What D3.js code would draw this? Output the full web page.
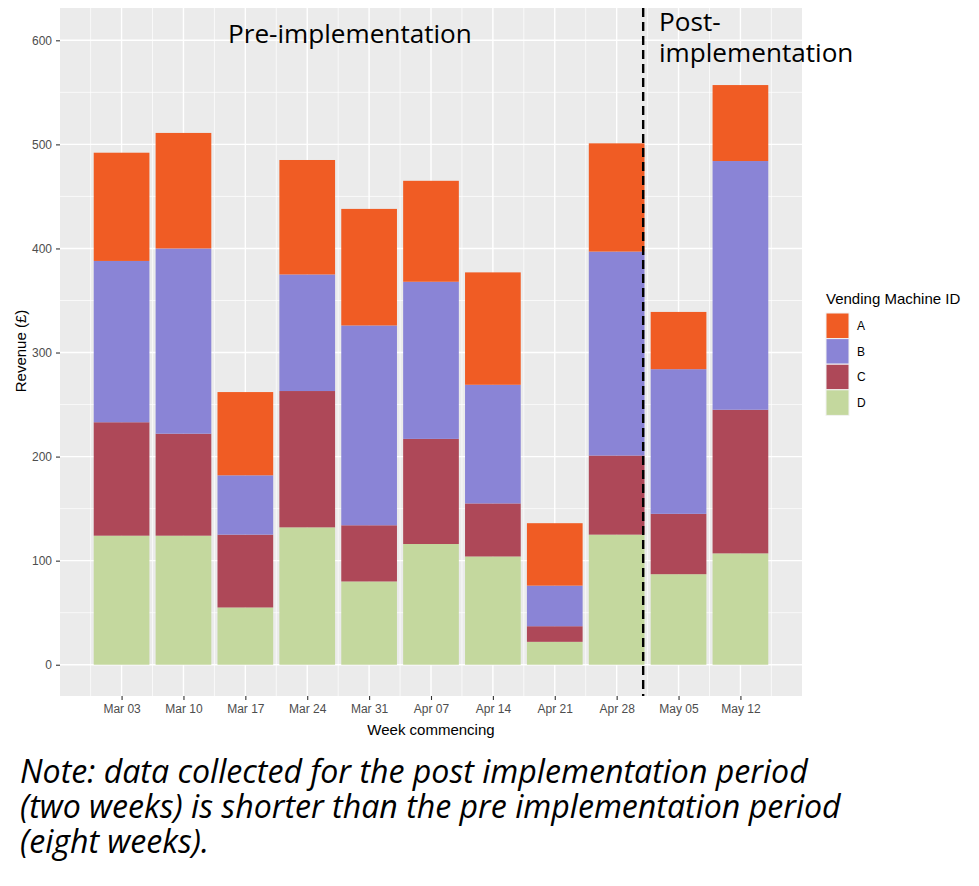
<!DOCTYPE html>
<html>
<head>
<meta charset="utf-8">
<script src="https://cdn.jsdelivr.net/npm/d3@7"></script>
<style>
  body { margin: 0; background: #fff; }
  svg { display: block; }
</style>
</head>
<body>
<div id="chart"></div>
<script>
// weekly revenue per vending machine (GBP)
var weeks = ["2025-03-03", "2025-03-10", "2025-03-17", "2025-03-24", "2025-03-31",
             "2025-04-07", "2025-04-14", "2025-04-21", "2025-04-28", "2025-05-05", "2025-05-12"];
var machineA = [104, 111, 80, 110, 112, 97, 108, 60, 104, 55, 73];
var machineB = [155, 178, 57, 112, 192, 151, 114, 39, 196, 139, 239];
var machineC = [109, 98, 70, 131, 54, 101, 51, 15, 76, 58, 138];
var machineD = [124, 124, 55, 132, 80, 116, 104, 22, 125, 87, 107];
var machineIds = ["A", "B", "C", "D"];
var yTicks = [0, 100, 200, 300, 400, 500, 600];
var cutoffDate = "2025-05-01";

var colours = { A: "#F05C24", B: "#8A84D6", C: "#AE4858", D: "#C4D89E" };
var width = 979, height = 886;
var panel = { left: 60, right: 802, top: 8, bottom: 696 };
var day = 864e5;
var parse = d3.utcParse("%Y-%m-%d");

var rows = weeks.map(function (w, i) {
  return { date: parse(w), A: machineA[i], B: machineB[i], C: machineC[i], D: machineD[i] };
});

var svg = d3.select("#chart").append("svg")
  .attr("width", width)
  .attr("height", height);

svg.append("rect").attr("width", width).attr("height", height).attr("fill", "#fff");

// bars are 0.9 of a week wide, ggplot style 5% expansion on both axes
var halfBar = 0.45 * 7 * day;
var x0 = rows[0].date.getTime() - halfBar;
var x1 = rows[rows.length - 1].date.getTime() + halfBar;
var xPad = (x1 - x0) * 0.05;
var x = d3.scaleUtc()
  .domain([new Date(x0 - xPad), new Date(x1 + xPad)])
  .range([panel.left, panel.right]);

var yMax = 601;
var y = d3.scaleLinear()
  .domain([-yMax * 0.05, yMax * 1.05])
  .range([panel.bottom, panel.top]);

svg.append("rect")
  .attr("x", panel.left).attr("y", panel.top)
  .attr("width", panel.right - panel.left)
  .attr("height", panel.bottom - panel.top)
  .attr("fill", "#EBEBEB");

// grid lines
var grid = svg.append("g");
var minorY = d3.range(50, 600, 100);
grid.selectAll(".minor-y").data(minorY).enter().append("line")
  .attr("x1", panel.left).attr("x2", panel.right)
  .attr("y1", function (d) { return y(d); }).attr("y2", function (d) { return y(d); })
  .attr("stroke", "#fff").attr("stroke-width", 0.7);
grid.selectAll(".major-y").data(yTicks).enter().append("line")
  .attr("x1", panel.left).attr("x2", panel.right)
  .attr("y1", function (d) { return y(d); }).attr("y2", function (d) { return y(d); })
  .attr("stroke", "#fff").attr("stroke-width", 1.4);

var minorX = rows.map(function (r) { return new Date(r.date.getTime() - 3.5 * day); });
minorX.push(new Date(rows[rows.length - 1].date.getTime() + 3.5 * day));
grid.selectAll(".minor-x").data(minorX).enter().append("line")
  .attr("y1", panel.top).attr("y2", panel.bottom)
  .attr("x1", function (d) { return x(d); }).attr("x2", function (d) { return x(d); })
  .attr("stroke", "#fff").attr("stroke-width", 0.7);
grid.selectAll(".major-x").data(rows).enter().append("line")
  .attr("y1", panel.top).attr("y2", panel.bottom)
  .attr("x1", function (d) { return x(d.date); }).attr("x2", function (d) { return x(d.date); })
  .attr("stroke", "#fff").attr("stroke-width", 1.4);

// stacked bars, D at the bottom
var stack = d3.stack().keys(["D", "C", "B", "A"]);
var layers = svg.append("g").selectAll("g")
  .data(stack(rows))
  .enter().append("g")
  .attr("fill", function (d) { return colours[d.key]; });

layers.selectAll("rect")
  .data(function (d) { return d; })
  .enter().append("rect")
  .attr("x", function (d) { return x(new Date(d.data.date.getTime() - halfBar)); })
  .attr("width", function (d) {
    return x(new Date(d.data.date.getTime() + halfBar)) - x(new Date(d.data.date.getTime() - halfBar));
  })
  .attr("y", function (d) { return y(d[1]); })
  .attr("height", function (d) { return y(d[0]) - y(d[1]); });

// divider between the two periods
svg.append("line")
  .attr("x1", x(parse(cutoffDate))).attr("x2", x(parse(cutoffDate)))
  .attr("y1", panel.top).attr("y2", panel.bottom)
  .attr("stroke", "#000").attr("stroke-width", 2.4)
  .attr("stroke-dasharray", "9,5");

// axes
var axisFont = "Liberation Sans, Arial, sans-serif";
var xAxis = svg.append("g")
  .attr("transform", "translate(0," + panel.bottom + ")")
  .call(d3.axisBottom(x).tickValues(rows.map(function (r) { return r.date; }))
    .tickFormat(d3.utcFormat("%b %d")).tickSize(4).tickPadding(4));
var yAxis = svg.append("g")
  .attr("transform", "translate(" + panel.left + ",0)")
  .call(d3.axisLeft(y).tickValues(yTicks).tickSize(4).tickPadding(4));

[xAxis, yAxis].forEach(function (a) {
  a.select(".domain").remove();
  a.selectAll(".tick line").attr("stroke", "#333").attr("stroke-width", 1.1);
  a.selectAll(".tick text")
    .attr("fill", "#4D4D4D")
    .attr("font-family", axisFont)
    .attr("font-size", 12);
});

svg.append("text")
  .attr("x", (panel.left + panel.right) / 2)
  .attr("y", 735)
  .attr("text-anchor", "middle")
  .attr("font-family", axisFont).attr("font-size", 15)
  .text("Week commencing");

svg.append("text")
  .attr("transform", "translate(26,351) rotate(-90)")
  .attr("text-anchor", "middle")
  .attr("font-family", axisFont).attr("font-size", 15)
  .text("Revenue (£)");

// legend
var legend = svg.append("g").attr("transform", "translate(826,0)");
legend.append("text")
  .attr("x", 0).attr("y", 304)
  .attr("font-family", axisFont).attr("font-size", 15)
  .text("Vending Machine ID");

var keys = legend.selectAll(".key").data(machineIds).enter().append("g")
  .attr("transform", function (d, i) { return "translate(0," + (313 + i * 25.6) + ")"; });
keys.append("rect")
  .attr("width", 23).attr("height", 25.6)
  .attr("fill", function (d) { return colours[d]; })
  .attr("stroke", "#F2F2F2").attr("stroke-width", 1);
keys.append("text")
  .attr("x", 31).attr("y", 12.8).attr("dy", "0.35em")
  .attr("font-family", axisFont).attr("font-size", 12)
  .text(function (d) { return d; });

// overlay annotations, sized to the widths in the original
var noteFont = "Open Sans, Noto Sans, sans-serif";
function fitWidth(sel, target) {
  var w = sel.node().getComputedTextLength();
  var s = parseFloat(sel.attr("font-size")) * target / w;
  sel.attr("font-size", s);
  return s;
}

var pre = svg.append("text")
  .attr("x", 228).attr("y", 43)
  .attr("font-family", noteFont).attr("font-size", 25)
  .text("Pre-implementation");
var annSize = fitWidth(pre, 244);

svg.append("text")
  .attr("x", 659).attr("y", 31)
  .attr("font-family", noteFont).attr("font-size", annSize)
  .text("Post-");
svg.append("text")
  .attr("x", 659).attr("y", 62)
  .attr("font-family", noteFont).attr("font-size", annSize)
  .text("implementation");

var noteLines = ["Note: data collected for the post implementation period",
                 "(two weeks) is shorter than the pre implementation period",
                 "(eight weeks)."];
var note = svg.append("g").selectAll("text").data(noteLines).enter().append("text")
  .attr("x", 20)
  .attr("y", function (d, i) { return 783 + i * 35; })
  .attr("font-family", noteFont).attr("font-style", "italic")
  .attr("font-size", 30)
  .text(function (d) { return d; });
var noteSize = fitWidth(d3.select(note.nodes()[0]), 788);
note.attr("font-size", noteSize);
</script>
</body>
</html>
